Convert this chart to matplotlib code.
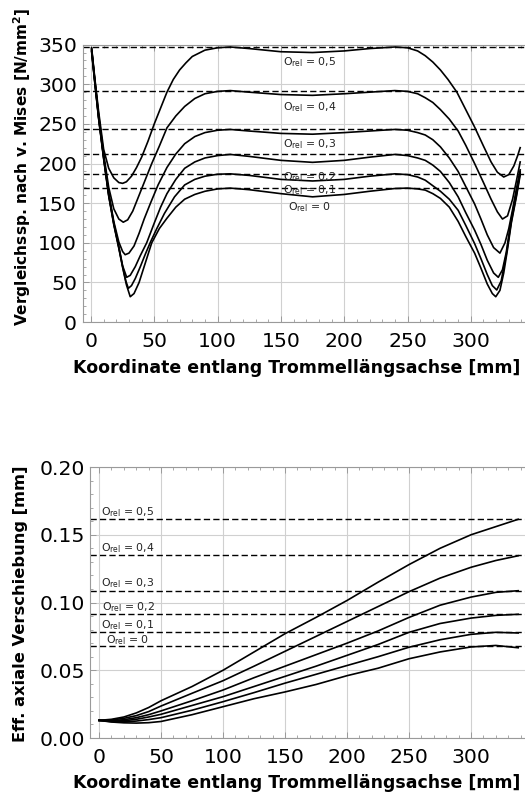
import matplotlib
matplotlib.use("Agg")
import matplotlib.pyplot as plt
from matplotlib.ticker import MultipleLocator

# ---- top plot: von Mises stress along the drum axis, one curve per O_rel
s5_x = [0.5, 3, 6, 10, 14, 18, 22, 25, 28, 32, 36, 40, 45, 50, 55, 60, 65, 70, 75, 80, 90, 100, 110, 125, 150, 175,
        200, 220, 240, 250, 258, 264, 270, 276, 282, 289, 296, 303, 310, 316, 321, 326, 330, 334, 337, 339]
s5_y = [346, 308, 266, 218, 194, 182, 176, 175, 177, 184, 195, 208, 228, 250, 270, 290, 306, 318, 327, 335, 343, 346,
        347, 345, 341, 340, 342, 345, 347, 346, 342, 336, 328, 318, 306, 290, 268, 246, 222, 202, 189, 183, 186, 197,
        210, 220]

s4_x = [0.5, 3, 6, 10, 14, 18, 22, 25.5, 29, 33, 38, 43, 48, 54, 60, 67, 74, 82, 90, 100, 110, 125, 150, 175, 200,
        220, 240, 250, 258, 264, 270, 276, 283, 290, 296, 303, 310, 316, 321, 325, 329, 333, 336, 339]
s4_y = [345, 306, 262, 212, 170, 143, 130, 126, 129, 140, 160, 180, 200, 222, 245, 260, 272, 282, 288, 291, 292, 290,
        287, 286, 288, 290, 292, 291, 288, 283, 277, 268, 256, 241, 223, 200, 176, 155, 139, 130, 134, 155, 178, 202]

s3_x = [0.5, 3, 6, 10, 14, 18, 22, 25, 27, 30, 34, 38, 42, 47, 53, 60, 67, 74, 82, 90, 100, 110, 125, 150, 175, 200,
        220, 240, 250, 258, 264, 270, 276, 283, 290, 296, 303, 308, 313, 318, 323, 327, 330, 333, 336, 339]
s3_y = [344, 305, 260, 209, 163, 127, 101, 89, 85, 87, 96, 112, 130, 150, 173, 195, 212, 225, 234, 239, 242, 243, 241,
        238, 237, 239, 241, 243, 242, 239, 236, 230, 221, 207, 190, 171, 149, 130, 110, 94, 87, 100, 118, 142, 168, 192]

s2_x = [0.5, 3, 6, 10, 14, 18, 22, 25, 28.2, 31, 35, 39, 44, 50, 55, 60, 67, 74, 82, 90, 100, 110, 125, 150, 175, 200,
        220, 240, 250, 258, 264, 270, 276, 283, 290, 296, 303, 308, 313, 318, 321.7, 325, 328, 332, 336, 339]
s2_y = [343, 304, 259, 208, 161, 125, 95, 71, 56.5, 59, 70, 84, 100, 125, 145, 162, 180, 194, 202, 207, 210, 211.5,
        209, 204, 201.5, 204, 208, 211.5, 210, 207, 204, 198, 190, 176, 158, 138, 116, 98, 78, 62, 56.5, 66, 88, 130,
        163, 190]

s1_x = [0.5, 3, 6, 10, 14, 18, 22, 25, 27.5, 29.5, 32, 35, 39, 43, 47, 52, 58, 66, 74, 82, 90, 100, 110, 125, 150,
        175, 200, 220, 240, 250, 258, 264, 270, 276, 283, 290, 296, 303, 308, 313, 317, 320.5, 324, 328, 332, 336, 339]
s1_y = [342, 303, 258, 207, 160, 124, 94, 70, 52, 42.6, 46, 55, 70, 86, 101, 118, 137, 158, 173, 180, 184, 186.5, 187,
        185, 180, 178, 180, 184, 187, 186, 183, 179, 172, 165, 155, 141, 122, 99, 80, 60, 46, 40.5, 52, 85, 127, 160,
        188]

s0_x = [0.5, 3, 6, 10, 14, 18, 22, 25, 28, 31, 34, 38, 43, 48, 54, 60, 67, 74, 82, 90, 100, 110, 125, 150, 175, 200,
        220, 240, 250, 258, 264, 270, 276, 283, 290, 296, 303, 308, 313, 317, 319.7, 323, 326, 329, 332, 336, 339]
s0_y = [341, 302, 257, 206, 159, 123, 93, 69, 47, 32, 36, 50, 75, 100, 118, 131, 145, 155, 161, 165, 168, 169, 167,
        162, 158, 161, 165, 168.5, 169, 168, 166.5, 162, 156, 145, 127, 108, 87, 68, 48, 36, 32, 40, 62, 92, 125, 158,
        185.5]

top_levels = [346.5, 291.8, 243.1, 211.6, 187.2, 169.1]
top_label_y = [328.4, 271.6, 224.6, 183.0, 166.0, 145.5]

# ---- bottom plot: effective axial displacement
bx = [0, 10, 20, 30, 40, 50, 75, 100, 125, 150, 175, 200, 225, 250, 275, 300, 320, 338]
b5 = [0.0130, 0.0138, 0.0155, 0.0185, 0.0225, 0.0275, 0.038, 0.0500, 0.0635, 0.077, 0.089, 0.1015, 0.115, 0.128,
      0.140, 0.150, 0.156, 0.1614]
b4 = [0.0130, 0.0133, 0.0145, 0.0165, 0.0195, 0.0236, 0.033, 0.0423, 0.053, 0.064, 0.075, 0.086, 0.097, 0.108, 0.118,
      0.126, 0.131, 0.1345]
b3 = [0.0130, 0.0128, 0.0135, 0.0150, 0.0172, 0.0200, 0.0275, 0.0354, 0.0445, 0.053, 0.0615, 0.070, 0.079, 0.089,
      0.098, 0.104, 0.1075, 0.1087]
b2 = [0.0130, 0.0125, 0.0127, 0.0138, 0.0155, 0.0175, 0.024, 0.0305, 0.038, 0.0455, 0.053, 0.061, 0.069, 0.078,
      0.0845, 0.0885, 0.0905, 0.0913]
b1 = [0.0130, 0.0121, 0.0119, 0.0125, 0.0136, 0.0150, 0.0205, 0.0268, 0.0335, 0.0405, 0.047, 0.0535, 0.060, 0.067,
      0.0725, 0.0765, 0.078, 0.0775]
b0 = [0.0130, 0.0118, 0.0112, 0.0110, 0.0113, 0.0122, 0.0172, 0.0231, 0.029, 0.0340, 0.0395, 0.046, 0.0515, 0.0585,
      0.0635, 0.0672, 0.0683, 0.0666]

bot_levels = [0.1616, 0.1348, 0.1087, 0.0913, 0.0780, 0.0681]
bot_label_y = [0.167, 0.140, 0.1142, 0.0969, 0.0834, 0.0723]

o_rel = ["0,5", "0,4", "0,3", "0,2", "0,1", "0"]

top_series = [(s5_x, s5_y), (s4_x, s4_y), (s3_x, s3_y), (s2_x, s2_y), (s1_x, s1_y), (s0_x, s0_y)]
bot_series = [b5, b4, b3, b2, b1, b0]

GRID = '#d0d0d0'
FRAME = '#9a9a9a'

fig = plt.figure(figsize=(5.25, 7.95), dpi=100)


def style_axes(ax, ypad, xpad):
    ax.grid(True, which='major', color=GRID, lw=0.8)
    ax.set_axisbelow(True)
    for side in ['left', 'bottom', 'top']:
        ax.spines[side].set_color(FRAME)
        ax.spines[side].set_linewidth(0.8)
    ax.spines['right'].set_visible(False)
    ax.tick_params(which='both', direction='in', colors=FRAME, top=True, right=False, labelcolor='black',
                   labelsize=14.7)
    ax.tick_params(which='major', length=4, width=0.7)
    ax.tick_params(which='minor', length=2.2, width=0.6)
    ax.tick_params(axis='x', pad=xpad)
    ax.tick_params(axis='y', pad=ypad)


# TOP
ax1 = fig.add_axes([83 / 525, 1 - 322.1 / 795, 1 - 83 / 525, 277.5 / 795])
for (xs, ys) in top_series:
    ax1.plot(xs, ys, color='black', lw=1.2)
for lev in top_levels:
    ax1.axhline(lev, color='black', lw=1.0, ls=(0, (4.5, 2.3)))
for lab, ly in zip(o_rel, top_label_y):
    ax1.text(173, ly, r'O$_{\mathrm{rel}}$ = ' + lab, fontsize=7.8, ha='center', va='center', color='#222222')
ax1.set_xlim(-6.3, 342.8)
ax1.set_ylim(0, 350)
ax1.xaxis.set_major_locator(MultipleLocator(50))
ax1.xaxis.set_minor_locator(MultipleLocator(10))
ax1.yaxis.set_major_locator(MultipleLocator(50))
ax1.yaxis.set_minor_locator(MultipleLocator(10))
style_axes(ax1, 4.3, 7)

# BOTTOM
ax2 = fig.add_axes([90 / 525, 1 - 738 / 795, 1 - 90 / 525, 271 / 795])
for ys in bot_series:
    ax2.plot(bx, ys, color='black', lw=1.2)
for lev in bot_levels:
    ax2.axhline(lev, color='black', lw=1.0, ls=(0, (4.5, 2.3)))
for lab, ly in zip(o_rel, bot_label_y):
    ax2.text(23.4, ly, r'O$_{\mathrm{rel}}$ = ' + lab, fontsize=7.8, ha='center', va='center', color='#222222')
ax2.set_xlim(-7.3, 343.5)
ax2.set_ylim(0, 0.2)
ax2.xaxis.set_major_locator(MultipleLocator(50))
ax2.xaxis.set_minor_locator(MultipleLocator(10))
ax2.yaxis.set_major_locator(MultipleLocator(0.05))
ax2.yaxis.set_minor_locator(MultipleLocator(0.01))
ax2.yaxis.set_major_formatter(plt.FormatStrFormatter('%.2f'))
style_axes(ax2, 3.6, 7)

# axis titles
fig.text(297 / 525, 1 - 368 / 795, 'Koordinate entlang Trommellängsachse [mm]', fontsize=12.5, fontweight='bold',
         ha='center', va='center')
fig.text(22 / 525, 1 - 166.5 / 795, r'Vergleichssp. nach v. Mises [N/mm$^\mathbf{2}$]', fontsize=11.1,
         fontweight='bold', rotation=90, ha='center', va='center')
fig.text(297 / 525, 1 - 783 / 795, 'Koordinate entlang Trommellängsachse [mm]', fontsize=12.5, fontweight='bold',
         ha='center', va='center')
fig.text(21 / 525, 1 - 603.5 / 795, 'Eff. axiale Verschiebung [mm]', fontsize=11.7, fontweight='bold', rotation=90,
         ha='center', va='center')

fig.savefig('out.png', dpi=100)
